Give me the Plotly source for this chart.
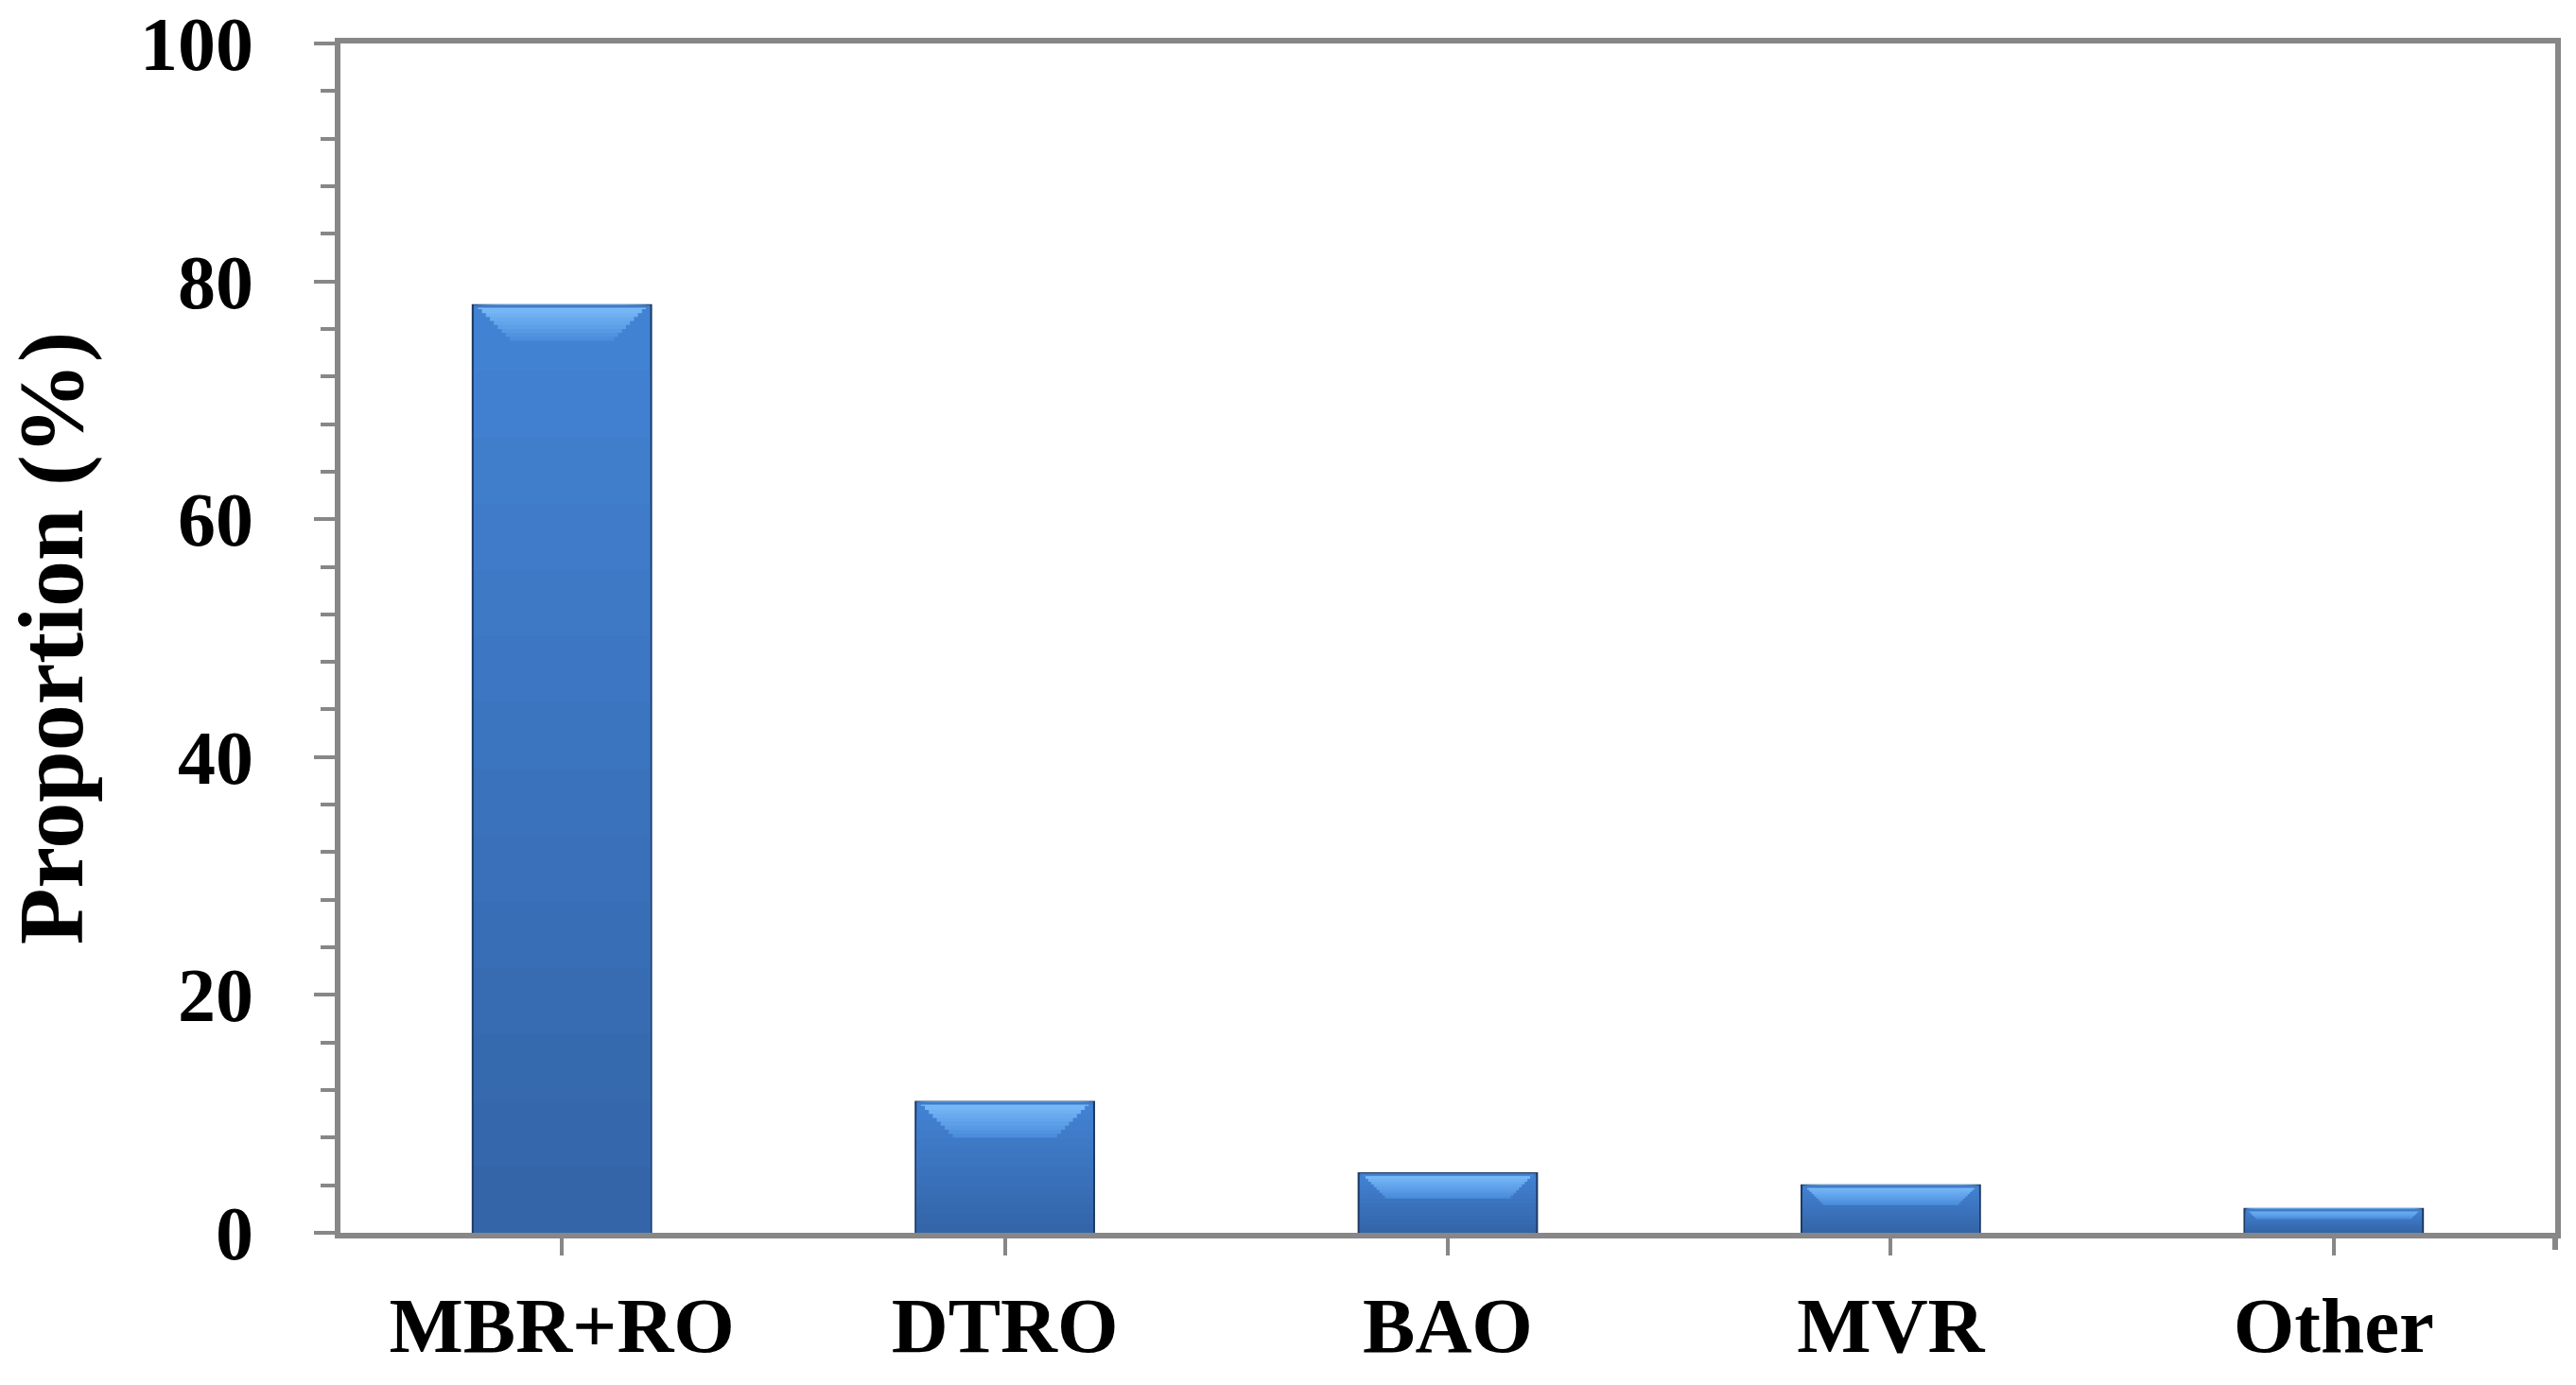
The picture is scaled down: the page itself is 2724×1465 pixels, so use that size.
import plotly.graph_objects as go

categories = ["MBR+RO", "DTRO", "BAO", "MVR", "Other"]
values = [78, 11, 5, 4, 2]
y_tick_vals = [0, 20, 40, 60, 80, 100]
y_tick_text = ["0", "20", "40", "60", "80", "100"]
y_title = "Proportion (%)"

W, H = 2724, 1465
L, T = 360, 46
plot_w, plot_h = 2342, 1258
R = W - L - plot_w
B = H - T - plot_h
px_per_x = plot_w / 5.0
px_per_y = plot_h / 100.0

BAR_W = 0.403
FONT = "Liberation Serif"
AXIS_COLOR = "#878787"


def lerp(c1, c2, t):
    return "#%02X%02X%02X" % tuple(int(round(c1[i] + (c2[i] - c1[i]) * t)) for i in range(3))


fig = go.Figure()

# main bars (outline)
fig.add_trace(go.Bar(
    x=categories, y=values, width=BAR_W,
    marker=dict(color="#3A71BA", line=dict(color="#1E3A62", width=2)),
    opacity=1, showlegend=False, hoverinfo="x+y",
))

# vertical body gradient: lighter at top, darker at bottom
top_c = (0x42, 0x82, 0xD3)
bot_c = (0x33, 0x63, 0xA5)
ng = 14
for k in range(ng, 0, -1):
    f = k / ng
    col = lerp(bot_c, top_c, f)
    fig.add_trace(go.Bar(
        x=categories, y=[v * f for v in values], width=BAR_W - 0.006,
        marker=dict(color=col, line=dict(width=0)),
        opacity=1, showlegend=False, hoverinfo="skip",
    ))

# bevel highlight layers (derived from the data values)
n = 9
light = (0x7A, 0xBC, 0xF9)
deep = (0x4C, 0x8D, 0xDD)
for k in range(n, 0, -1):
    f = k / n
    t = (k - 1) / (n - 1)
    col = lerp(light, deep, t)
    hs, bs, ws = [], [], []
    for v in values:
        d = min(3.0, 0.42 * v)
        inset = d * px_per_y / px_per_x
        h = d * f
        hs.append(h)
        bs.append(v - h)
        ws.append(BAR_W - 2 * inset * f - 0.006)
    fig.add_trace(go.Bar(
        x=categories, y=hs, base=bs, width=ws,
        marker=dict(color=col, line=dict(width=0)),
        opacity=1, showlegend=False, hoverinfo="skip",
    ))

# thin top edge
fig.add_trace(go.Bar(
    x=categories, y=[0.22] * len(values), base=[v - 0.22 for v in values], width=BAR_W - 0.006,
    marker=dict(color="#3F7CC9", line=dict(width=0)), opacity=1, showlegend=False, hoverinfo="skip",
))

fig.update_layout(
    width=W, height=H,
    margin=dict(l=L, r=R, t=T, b=B, autoexpand=False),
    paper_bgcolor="white", plot_bgcolor="white",
    barmode="overlay",
    showlegend=False,
    font=dict(family=FONT, color="black"),
)

fig.update_xaxes(
    range=[-0.5, 4.5],
    showline=True, linecolor=AXIS_COLOR, linewidth=6, mirror=True,
    ticks="outside", ticklen=18, tickwidth=4, tickcolor=AXIS_COLOR,
    tickfont=dict(family=FONT, size=83, color="black", weight="bold"),
    ticklabelstandoff=2, ticklabeloverflow="allow",
    showgrid=False, zeroline=False,
)

fig.update_yaxes(
    range=[0, 100],
    tickvals=y_tick_vals, ticktext=y_tick_text,
    showline=True, linecolor=AXIS_COLOR, linewidth=6, mirror=True,
    ticks="outside", ticklen=22, tickwidth=4, tickcolor=AXIS_COLOR,
    minor=dict(dtick=4, ticks="outside", ticklen=15, tickwidth=4, tickcolor=AXIS_COLOR, showgrid=False),
    tickfont=dict(family=FONT, size=80, color="black", weight="bold"),
    ticklabelstandoff=48, ticklabeloverflow="allow",
    title=dict(text=y_title, font=dict(family=FONT, size=98, color="black", weight="bold"), standoff=68),
    showgrid=False, zeroline=False,
)

# right border extends below the baseline
fig.add_shape(type="line", xref="x domain", yref="y domain",
              x0=1, x1=1, y0=0, y1=-18 / plot_h,
              line=dict(color=AXIS_COLOR, width=6))

fig.write_html("out.html",
               config={"displayModeBar": False},
               post_script="document.body.style.margin='0';document.body.style.overflow='hidden';")
